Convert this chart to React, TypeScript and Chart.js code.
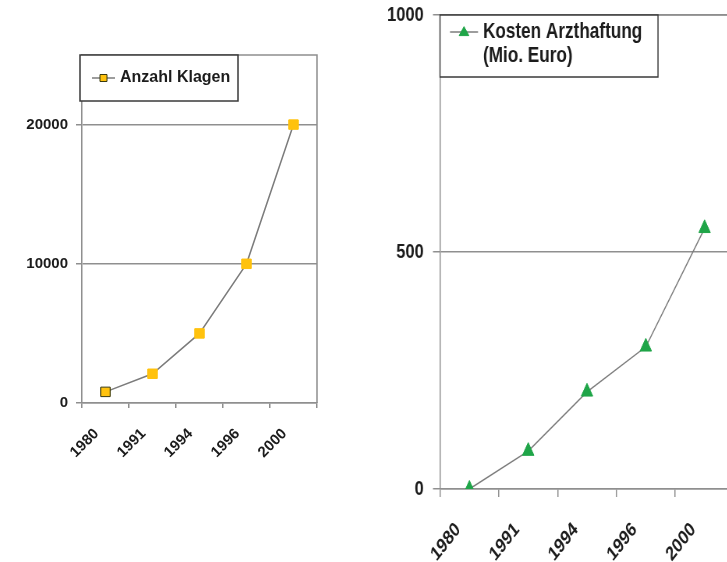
import { useEffect, useRef } from 'react';
import { Chart, registerables } from 'chart.js';

Chart.register(...registerables);

// ---- data ----
const years = ['1980', '1991', '1994', '1996', '2000'];
const klagen = [800, 2100, 5000, 10000, 20000];
const kosten = [0, 80, 205, 300, 550];
const leftTicks = [0, 10000, 20000];
const rightTicks = [0, 500, 1000];
const leftLegend = ['Anzahl Klagen'];
const rightLegend = ['Kosten Arzthaftung', '(Mio. Euro)'];

// ---- styles ----
const GRID = '#8f8f8f';
const LINE = '#7c7c7c';
const TEXT = '#1c1c1c';
const YELLOW = '#FFC20E';
const GREEN = '#1FA548';
const FONT = '"Liberation Sans", Arial, sans-serif';
const SQUISH = 0.78; // the right-hand panel is horizontally condensed in the reference

type LegendCfg = {
  box: [number, number, number, number];
  lineY: number;
  lineX: [number, number];
  markerX: number;
  marker: 'rect' | 'triangle';
  markerW: number;
  markerH: number;
  markerFill: string;
  markerStroke: string;
  textX: number;
  lineGap: number;
  font: string;
  lines: string[];
};

function boxLegend(cfg: LegendCfg) {
  return {
    id: 'boxLegend',
    afterDraw(chart: any) {
      const ctx = chart.ctx as CanvasRenderingContext2D;
      const [bx, by, bw, bh] = cfg.box;
      ctx.save();
      ctx.fillStyle = '#ffffff';
      ctx.fillRect(bx, by, bw, bh);
      ctx.lineWidth = 1.5;
      ctx.strokeStyle = '#3a3a3a';
      ctx.strokeRect(bx, by, bw, bh);
      ctx.beginPath();
      ctx.strokeStyle = LINE;
      ctx.lineWidth = 1.5;
      ctx.moveTo(cfg.lineX[0], cfg.lineY);
      ctx.lineTo(cfg.lineX[1], cfg.lineY);
      ctx.stroke();
      ctx.beginPath();
      const w = cfg.markerW;
      const h = cfg.markerH;
      if (cfg.marker === 'rect') {
        ctx.rect(cfg.markerX - w / 2, cfg.lineY - h / 2, w, h);
      } else {
        ctx.moveTo(cfg.markerX, cfg.lineY - h * 0.6);
        ctx.lineTo(cfg.markerX + w / 2, cfg.lineY + h * 0.4);
        ctx.lineTo(cfg.markerX - w / 2, cfg.lineY + h * 0.4);
        ctx.closePath();
      }
      ctx.fillStyle = cfg.markerFill;
      ctx.fill();
      ctx.strokeStyle = cfg.markerStroke;
      ctx.lineWidth = 1;
      ctx.stroke();
      ctx.fillStyle = TEXT;
      ctx.font = cfg.font;
      ctx.textBaseline = 'middle';
      ctx.textAlign = 'left';
      cfg.lines.forEach((t, i) => ctx.fillText(t, cfg.textX, cfg.lineY + i * cfg.lineGap));
      ctx.restore();
    },
  };
}

const framePlugin = {
  id: 'frame',
  beforeDatasetsDraw(chart: any) {
    const { left, top, right, bottom } = chart.chartArea;
    const ctx = chart.ctx as CanvasRenderingContext2D;
    ctx.save();
    ctx.strokeStyle = GRID;
    ctx.lineWidth = 1.5;
    ctx.beginPath();
    ctx.moveTo(left, top);
    ctx.lineTo(right, top);
    ctx.lineTo(right, bottom);
    ctx.stroke();
    ctx.restore();
  },
};

type ChartCfg = {
  values: number[];
  label: string;
  yMax: number;
  yTicks: number[];
  yWidth: number;
  xHeight: number;
  padding: { top: number; right: number; left: number; bottom: number };
  yFont: any;
  xFont: any;
  yPad: number;
  yTickLen: number;
  xPad: number;
  xTickLen: number;
  xLabelOffset: number;
  pointStyle: string;
  pointRadius: number;
  pointFill: string;
  pointBorder: string[] | string;
  legend: LegendCfg;
};

function buildChart(canvas: HTMLCanvasElement, c: ChartCfg) {
  return new Chart(canvas, {
    type: 'line',
    data: {
      labels: years,
      datasets: [
        {
          label: c.label,
          data: c.values,
          borderColor: LINE,
          borderWidth: 1.5,
          tension: 0,
          pointStyle: c.pointStyle as any,
          pointRadius: c.pointRadius,
          pointBackgroundColor: c.pointFill,
          pointBorderColor: c.pointBorder as any,
          pointBorderWidth: 1,
          fill: false,
        },
      ],
    },
    options: {
      responsive: false,
      animation: false,
      events: [],
      layout: { padding: c.padding },
      plugins: {
        legend: { display: false },
        tooltip: { enabled: false },
      },
      scales: {
        x: {
          type: 'category',
          offset: true,
          afterFit: (s: any) => {
            s.height = c.xHeight;
            s.paddingLeft = 0;
            s.paddingRight = 0;
          },
          grid: {
            offset: true,
            drawOnChartArea: false,
            drawTicks: true,
            tickLength: c.xTickLen,
            color: GRID,
            lineWidth: 1.5,
          },
          border: { display: true, color: GRID, width: 1.5 },
          ticks: {
            autoSkip: false,
            minRotation: 45,
            maxRotation: 45,
            color: TEXT,
            font: c.xFont,
            padding: c.xPad,
            labelOffset: c.xLabelOffset,
          },
        },
        y: {
          type: 'linear',
          min: 0,
          max: c.yMax,
          afterFit: (s: any) => {
            s.width = c.yWidth;
            s.paddingTop = 0;
            s.paddingBottom = 0;
          },
          afterBuildTicks: (s: any) => {
            s.ticks = c.yTicks.map((v) => ({ value: v }));
          },
          grid: {
            color: GRID,
            lineWidth: 1.5,
            drawTicks: true,
            tickLength: c.yTickLen,
          },
          border: { display: true, color: GRID, width: 1.5 },
          ticks: {
            color: TEXT,
            font: c.yFont,
            padding: c.yPad,
            callback: (v: any) => String(v),
          },
        },
      },
    },
    plugins: [framePlugin, boxLegend(c.legend)],
  });
}

const RIGHT_W = 513;

export default function App() {
  const leftRef = useRef<HTMLCanvasElement | null>(null);
  const rightRef = useRef<HTMLCanvasElement | null>(null);

  useEffect(() => {
    const left = buildChart(leftRef.current!, {
      values: klagen,
      label: leftLegend.join(' '),
      yMax: 25000,
      yTicks: leftTicks,
      yWidth: 82,
      xHeight: 159,
      padding: { top: 55, right: 23, left: 0, bottom: 0 },
      yFont: { family: FONT, size: 15, weight: 'bold' },
      xFont: { family: FONT, size: 15, weight: 'bold' },
      yPad: 8,
      yTickLen: 6,
      xPad: 17,
      xTickLen: 5,
      xLabelOffset: -9,
      pointStyle: 'rect',
      pointRadius: 6.7,
      pointFill: YELLOW,
      pointBorder: ['#3a3a10', YELLOW, YELLOW, YELLOW, YELLOW],
      legend: {
        box: [80, 55, 158, 46],
        lineY: 78,
        lineX: [92, 115],
        markerX: 103.5,
        marker: 'rect',
        markerW: 7,
        markerH: 7,
        markerFill: YELLOW,
        markerStroke: '#3a3a10',
        textX: 120,
        lineGap: 0,
        font: `bold 16px ${FONT}`,
        lines: leftLegend,
      },
    });
    const right = buildChart(rightRef.current!, {
      values: kosten,
      label: rightLegend.join(' '),
      yMax: 1000,
      yTicks: rightTicks,
      yWidth: 80 / SQUISH,
      xHeight: 73,
      padding: { top: 15, right: RIGHT_W - 374 / SQUISH, left: 0, bottom: 0 },
      yFont: { family: FONT, size: 21, weight: 'bold' },
      xFont: { family: FONT, size: 20, weight: 'bold' },
      yPad: 12,
      yTickLen: 9,
      xPad: 21,
      xTickLen: 8,
      xLabelOffset: -14.5,
      pointStyle: 'triangle',
      pointRadius: 8.5,
      pointFill: GREEN,
      pointBorder: GREEN,
      legend: {
        box: [80 / SQUISH, 15, 218 / SQUISH, 62],
        lineY: 32,
        lineX: [90 / SQUISH, 118 / SQUISH],
        markerX: 104 / SQUISH,
        marker: 'triangle',
        markerW: 12.5,
        markerH: 9,
        markerFill: GREEN,
        markerStroke: GREEN,
        textX: 123 / SQUISH,
        lineGap: 24,
        font: `bold 22px ${FONT}`,
        lines: rightLegend,
      },
    });
    return () => {
      left.destroy();
      right.destroy();
    };
  }, []);

  return (
    <div
      style={{
        position: 'fixed',
        left: 0,
        top: 0,
        width: 727,
        height: 562,
        overflow: 'hidden',
        background: '#ffffff',
      }}
    >
      <canvas
        ref={leftRef}
        width={340}
        height={562}
        style={{ position: 'absolute', left: 0, top: 0, width: 340, height: 562 }}
      />
      <div
        style={{
          position: 'absolute',
          left: 360,
          top: 0,
          width: RIGHT_W,
          height: 562,
          transform: `scaleX(${SQUISH})`,
          transformOrigin: '0 0',
        }}
      >
        <canvas
          ref={rightRef}
          width={RIGHT_W}
          height={562}
          style={{ display: 'block', width: RIGHT_W, height: 562 }}
        />
      </div>
    </div>
  );
}
